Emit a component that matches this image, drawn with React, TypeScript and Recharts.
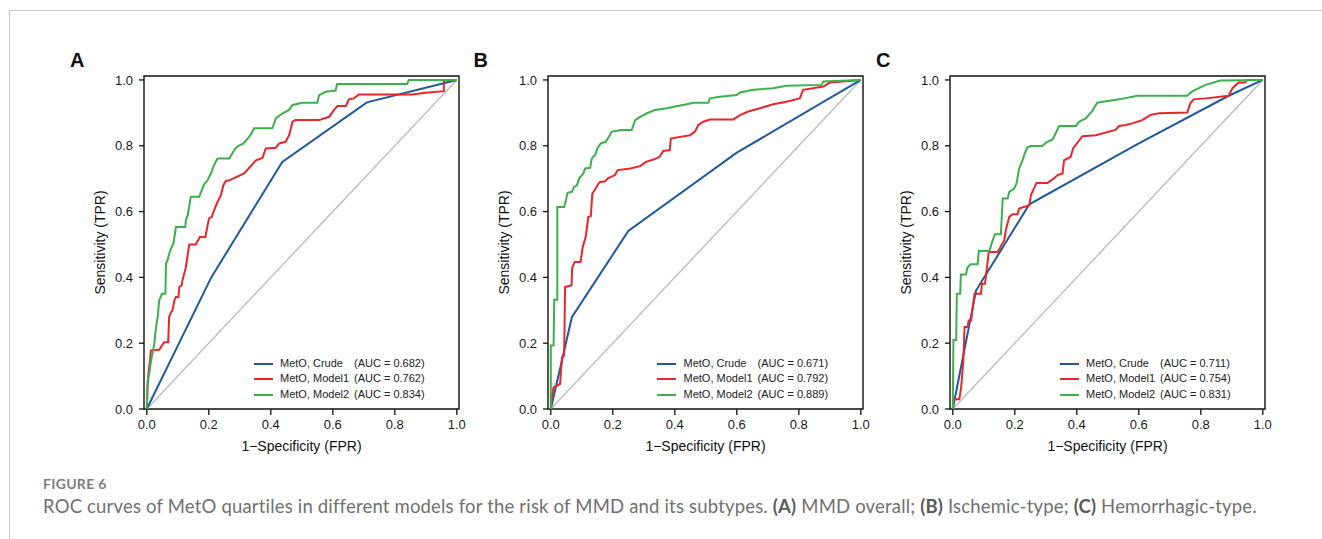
import React from 'react';
import { LineChart, Line, XAxis, YAxis, Legend, ReferenceLine, ReferenceArea } from 'recharts';

// [fpr, tpr] pairs
const A_CRUDE: [number, number][] = [[0, 0], [0.208, 0.4], [0.437, 0.751], [0.71, 0.932], [1, 1]];
const A_MODEL1: [number, number][] = [
  [0, 0], [0.003, 0.076], [0.006, 0.117], [0.01, 0.142], [0.013, 0.178], [0.04, 0.18], [0.056, 0.203],
  [0.069, 0.203], [0.072, 0.279], [0.078, 0.294], [0.083, 0.3], [0.089, 0.33], [0.094, 0.34], [0.102, 0.34],
  [0.105, 0.371], [0.113, 0.376], [0.115, 0.391], [0.126, 0.431], [0.137, 0.5], [0.158, 0.5], [0.171, 0.523],
  [0.189, 0.523], [0.196, 0.558], [0.201, 0.579], [0.21, 0.584], [0.217, 0.604], [0.228, 0.629], [0.239, 0.65],
  [0.247, 0.68], [0.255, 0.693], [0.266, 0.695], [0.314, 0.716], [0.352, 0.756], [0.373, 0.763], [0.384, 0.792],
  [0.416, 0.794], [0.427, 0.807], [0.448, 0.812], [0.459, 0.832], [0.47, 0.873], [0.48, 0.878], [0.556, 0.878],
  [0.588, 0.888], [0.604, 0.909], [0.615, 0.921], [0.642, 0.921], [0.652, 0.941], [0.668, 0.944], [0.684, 0.956],
  [0.856, 0.956], [0.899, 0.961], [0.958, 0.966], [0.958, 0.998], [1, 1],
];
const A_MODEL2: [number, number][] = [
  [0, 0], [0.003, 0.086], [0.008, 0.107], [0.013, 0.142], [0.019, 0.173], [0.024, 0.198], [0.03, 0.249],
  [0.035, 0.279], [0.04, 0.33], [0.049, 0.35], [0.06, 0.35], [0.062, 0.442], [0.067, 0.452], [0.072, 0.472],
  [0.078, 0.487], [0.086, 0.503], [0.094, 0.553], [0.124, 0.553], [0.126, 0.574], [0.132, 0.589], [0.142, 0.645],
  [0.169, 0.645], [0.175, 0.66], [0.185, 0.683], [0.196, 0.695], [0.206, 0.714], [0.217, 0.741], [0.228, 0.761],
  [0.266, 0.761], [0.279, 0.782], [0.289, 0.795], [0.3, 0.802], [0.312, 0.807], [0.325, 0.822], [0.335, 0.833],
  [0.346, 0.853], [0.405, 0.853], [0.416, 0.883], [0.437, 0.898], [0.459, 0.909], [0.47, 0.924], [0.502, 0.931],
  [0.55, 0.931], [0.556, 0.954], [0.577, 0.964], [0.609, 0.968], [0.614, 0.988], [0.84, 0.988], [0.845, 1], [1, 1],
];

const B_CRUDE: [number, number][] = [[0, 0], [0.068, 0.279], [0.25, 0.541], [0.6, 0.779], [1, 1]];
const B_MODEL1: [number, number][] = [
  [0, 0], [0.003, 0.036], [0.009, 0.066], [0.03, 0.076], [0.036, 0.157], [0.043, 0.162], [0.046, 0.371],
  [0.067, 0.376], [0.069, 0.429], [0.077, 0.447], [0.096, 0.447], [0.103, 0.492], [0.113, 0.525], [0.121, 0.584],
  [0.129, 0.586], [0.134, 0.655], [0.141, 0.665], [0.154, 0.685], [0.159, 0.69], [0.175, 0.692], [0.184, 0.701],
  [0.207, 0.711], [0.216, 0.726], [0.256, 0.731], [0.288, 0.738], [0.307, 0.751], [0.331, 0.758], [0.35, 0.766],
  [0.363, 0.784], [0.384, 0.787], [0.387, 0.822], [0.417, 0.827], [0.449, 0.832], [0.465, 0.843], [0.476, 0.863],
  [0.492, 0.873], [0.513, 0.88], [0.589, 0.88], [0.61, 0.893], [0.637, 0.904], [0.675, 0.914], [0.717, 0.926],
  [0.76, 0.934], [0.803, 0.944], [0.814, 0.97], [0.879, 0.98], [0.9, 0.992], [1, 1],
];
const B_MODEL2: [number, number][] = [
  [0, 0], [0, 0.193], [0.009, 0.193], [0.011, 0.332], [0.021, 0.332], [0.021, 0.614], [0.043, 0.614],
  [0.049, 0.635], [0.054, 0.657], [0.068, 0.66], [0.075, 0.675], [0.084, 0.68], [0.092, 0.701], [0.105, 0.716],
  [0.111, 0.731], [0.127, 0.733], [0.132, 0.761], [0.143, 0.772], [0.15, 0.792], [0.161, 0.807], [0.177, 0.812],
  [0.184, 0.822], [0.197, 0.843], [0.229, 0.848], [0.261, 0.848], [0.272, 0.878], [0.288, 0.888], [0.309, 0.898],
  [0.336, 0.909], [0.374, 0.914], [0.401, 0.919], [0.438, 0.926], [0.46, 0.931], [0.508, 0.931], [0.513, 0.944],
  [0.545, 0.949], [0.599, 0.954], [0.61, 0.962], [0.653, 0.97], [0.717, 0.975], [0.76, 0.982], [0.873, 0.985],
  [0.879, 0.995], [1, 1],
];

const C_CRUDE: [number, number][] = [[0, 0], [0.075, 0.36], [0.247, 0.622], [0.6, 0.807], [0.89, 0.952], [1, 1]];
const C_MODEL1: [number, number][] = [
  [0, 0], [0.002, 0.03], [0.021, 0.03], [0.027, 0.066], [0.034, 0.147], [0.038, 0.249], [0.048, 0.249],
  [0.051, 0.269], [0.059, 0.269], [0.064, 0.305], [0.07, 0.35], [0.091, 0.35], [0.094, 0.381], [0.104, 0.381],
  [0.116, 0.477], [0.145, 0.477], [0.166, 0.513], [0.171, 0.543], [0.182, 0.584], [0.193, 0.592], [0.209, 0.592],
  [0.214, 0.609], [0.247, 0.619], [0.252, 0.65], [0.27, 0.687], [0.305, 0.687], [0.327, 0.701], [0.338, 0.711],
  [0.354, 0.716], [0.359, 0.756], [0.38, 0.766], [0.388, 0.792], [0.418, 0.829], [0.461, 0.832], [0.525, 0.848],
  [0.536, 0.86], [0.557, 0.863], [0.579, 0.868], [0.611, 0.878], [0.638, 0.894], [0.665, 0.899], [0.756, 0.901],
  [0.766, 0.929], [0.777, 0.941], [0.815, 0.944], [0.89, 0.952], [0.902, 0.975], [0.922, 0.992], [0.943, 0.992],
  [0.949, 1], [1, 1],
];
const C_MODEL2: [number, number][] = [
  [0, 0], [0.002, 0.21], [0.011, 0.21], [0.013, 0.35], [0.024, 0.35], [0.026, 0.409], [0.043, 0.409],
  [0.047, 0.429], [0.057, 0.44], [0.08, 0.44], [0.084, 0.48], [0.118, 0.48], [0.127, 0.508], [0.136, 0.531],
  [0.155, 0.531], [0.161, 0.64], [0.177, 0.64], [0.182, 0.66], [0.198, 0.67], [0.206, 0.687], [0.214, 0.731],
  [0.225, 0.756], [0.234, 0.782], [0.241, 0.795], [0.252, 0.799], [0.289, 0.799], [0.3, 0.81], [0.322, 0.819],
  [0.343, 0.86], [0.397, 0.86], [0.407, 0.873], [0.429, 0.883], [0.45, 0.906], [0.466, 0.931], [0.536, 0.941],
  [0.595, 0.952], [0.756, 0.952], [0.772, 0.965], [0.815, 0.985], [0.863, 0.998], [1, 1],
];

const SERIES_NAMES = ['MetO, Crude', 'MetO, Model1', 'MetO, Model2'];
const SERIES_COLORS = ['#20599c', '#e8262b', '#3cb04a'];
const A_AUC = ['0.682', '0.762', '0.834'];
const B_AUC = ['0.671', '0.792', '0.889'];
const C_AUC = ['0.711', '0.754', '0.831'];
const TICKS = [0, 0.2, 0.4, 0.6, 0.8, 1];

const X_DOMAIN = [-0.009, 1.007];
const Y_DOMAIN = [0, 1.012];
const AXIS_FONT = '"Liberation Sans", Arial, sans-serif';
const Y_AXIS_W = 84;

const toPoints = (pairs: [number, number][]) => pairs.map(([x, y]) => ({ x, y }));

function LegendBox({ payload, auc }: any) {
  return (
    <div style={{ fontFamily: AXIS_FONT, fontSize: 11, color: '#222', width: 200 }}>
      {(payload || []).map((p: any) => {
        const i = SERIES_NAMES.indexOf(p.value);
        return (
          <div key={p.value} style={{ position: 'relative', height: 15.5, lineHeight: '15.5px' }}>
            <span style={{ position: 'absolute', left: 0, top: 7, width: 19, height: 2, background: SERIES_COLORS[i] }} />
            <span style={{ position: 'absolute', left: 26.5, top: 0, whiteSpace: 'nowrap' }}>{p.value}</span>
            <span style={{ position: 'absolute', left: 100.5, top: 0, whiteSpace: 'nowrap' }}>(AUC = {auc[i]})</span>
          </div>
        );
      })}
    </div>
  );
}

function YTitle(props: any) {
  const vb = props.viewBox || { x: 0, y: 0, width: Y_AXIS_W, height: 333 };
  const cx = vb.x + 40;
  const cy = vb.y + vb.height / 2;
  return (
    <text x={cx} y={cy} transform={`rotate(-90, ${cx}, ${cy})`} textAnchor="middle" dominantBaseline="central"
      fontFamily={AXIS_FONT} fontSize={14} fill="#111">
      Sensitivity (TPR)
    </text>
  );
}

function RocPanel({ plotLeft, letter, curves, auc }: { plotLeft: number; letter: string; curves: [number, number][][]; auc: string[] }) {
  return (
    <>
      <div style={{ position: 'absolute', left: plotLeft - 74, top: 49.5, fontFamily: AXIS_FONT, fontWeight: 700, fontSize: 20, lineHeight: 1, color: '#111' }}>
        {letter}
      </div>
      <div style={{ position: 'absolute', left: plotLeft - Y_AXIS_W, top: 0, fontFamily: AXIS_FONT, fontSize: 13 }}>
        <LineChart width={Y_AXIS_W + 315 + 10} height={470} margin={{ top: 76, right: 10, bottom: 11, left: 0 }}
          style={{ fontFamily: AXIS_FONT }}>
          <XAxis type="number" dataKey="x" domain={X_DOMAIN} ticks={TICKS} allowDataOverflow
            tickFormatter={(v: number) => v.toFixed(1)} axisLine={false} height={50}
            tickSize={6} tickMargin={5} tickLine={{ stroke: '#111', strokeWidth: 1.3 }}
            tick={{ fill: '#1a1a1a', fontSize: 13, fontFamily: AXIS_FONT }}
            label={{ value: '1\u2212Specificity (FPR)', position: 'insideBottom', offset: 8, fill: '#111', fontSize: 14, fontFamily: AXIS_FONT }} />
          <YAxis type="number" dataKey="y" domain={Y_DOMAIN} ticks={TICKS} allowDataOverflow width={Y_AXIS_W}
            tickFormatter={(v: number) => v.toFixed(1)} axisLine={false}
            tickSize={5} tickMargin={6} tickLine={{ stroke: '#111', strokeWidth: 1.3 }}
            tick={{ fill: '#1a1a1a', fontSize: 13, fontFamily: AXIS_FONT }}
            label={<YTitle />} />
          <ReferenceArea x1={X_DOMAIN[0]} x2={X_DOMAIN[1]} y1={Y_DOMAIN[0]} y2={Y_DOMAIN[1]} fill="none"
            stroke="#111" strokeWidth={1.4} ifOverflow="visible" />
          <ReferenceLine segment={[{ x: 0, y: 0 }, { x: 1, y: 1 }]} stroke="#bcbcbc" strokeWidth={1.4} />
          {curves.map((c, i) => (
            <Line key={SERIES_NAMES[i]} name={SERIES_NAMES[i]} data={toPoints(c)} dataKey="y" type="linear"
              stroke={SERIES_COLORS[i]} strokeWidth={2} dot={false} activeDot={false} isAnimationActive={false} />
          ))}
          <Legend layout="vertical" align="center" verticalAlign="middle"
            wrapperStyle={{ left: Y_AXIS_W + 109.5, top: 355.5, width: 200, height: 'auto' }}
            content={(props: any) => <LegendBox payload={props.payload} auc={auc} />} />
        </LineChart>
      </div>
    </>
  );
}

export default function App() {
  return (
    <div style={{ position: 'absolute', left: 0, top: 0, width: 1322, height: 539, background: '#fff', overflow: 'hidden' }}>
      <div style={{ position: 'absolute', left: 9, top: 10, right: 0, bottom: 0, borderTop: '1.5px solid #c9c9c9', borderLeft: '1.5px solid #c9c9c9' }} />
      <RocPanel plotLeft={144} letter="A" curves={[A_CRUDE, A_MODEL1, A_MODEL2]} auc={A_AUC} />
      <RocPanel plotLeft={547.5} letter="B" curves={[B_CRUDE, B_MODEL1, B_MODEL2]} auc={B_AUC} />
      <RocPanel plotLeft={950} letter="C" curves={[C_CRUDE, C_MODEL1, C_MODEL2]} auc={C_AUC} />
      <div style={{ position: 'absolute', left: 43, top: 476.6, fontFamily: 'Lato, sans-serif', fontWeight: 700, fontSize: 14, lineHeight: 1, color: '#7d7d7d', letterSpacing: 0.3 }}>
        FIGURE 6
      </div>
      <div style={{ position: 'absolute', left: 43, top: 496.8, fontFamily: 'Lato, sans-serif', fontSize: 18.5, letterSpacing: 0.18, lineHeight: 1, color: '#707070', whiteSpace: 'nowrap' }}>
        ROC curves of MetO quartiles in different models for the risk of MMD and its subtypes.{' '}
        <b style={{ color: '#5a5a5a' }}>(A)</b> MMD overall; <b style={{ color: '#5a5a5a' }}>(B)</b> Ischemic-type;{' '}
        <b style={{ color: '#5a5a5a' }}>(C)</b> Hemorrhagic-type.
      </div>
    </div>
  );
}
